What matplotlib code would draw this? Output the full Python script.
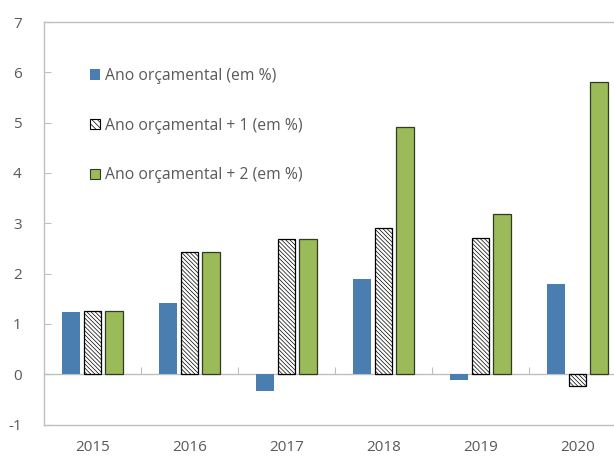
import numpy as np
import matplotlib
matplotlib.use("Agg")
import matplotlib.pyplot as plt
from matplotlib.patches import Patch

# ---- Data ----
years = ["2015", "2016", "2017", "2018", "2019", "2020"]
ano = [1.24, 1.42, -0.33, 1.89, -0.11, 1.79]
ano_1 = [1.26, 2.43, 2.68, 2.90, 2.70, -0.23]
ano_2 = [1.26, 2.43, 2.68, 4.91, 3.19, 5.81]
labels = ["Ano orçamental (em %)", "Ano orçamental + 1 (em %)", "Ano orçamental + 2 (em %)"]

plt.rcParams["font.family"] = ["Open Sans", "DejaVu Sans"]
plt.rcParams["axes.unicode_minus"] = False
plt.rcParams["hatch.linewidth"] = 0.5
plt.rcParams["hatch.color"] = "black"

blue = "#4A7EB0"
green = "#9BBB59"
axis_gray = "#BFBFBF"
text_gray = "#595959"

fig = plt.figure(figsize=(6.14, 4.57), dpi=100)
# right edge of the plot area runs past the picture
ax = fig.add_axes([44 / 614, 32.5 / 457, 582 / 614, 402.5 / 457])

x = np.arange(len(years))
w = 0.18
off = 0.222

ax.bar(x - off, ano, w, color=blue, linewidth=0)
ax.bar(x, ano_1, w, facecolor="white", edgecolor="black", hatch="\\" * 8, linewidth=0.9)
ax.bar(x + off, ano_2, w, color=green, edgecolor="#2f3b22", linewidth=0.9)

ax.set_xlim(-0.5, len(years) - 0.5)
ax.set_ylim(-1, 7)
ax.set_yticks(range(-1, 8))

ax.axhline(0, color=axis_gray, linewidth=1, zorder=0.5)

for side in ["left", "bottom", "top"]:
    ax.spines[side].set_color(axis_gray)
    ax.spines[side].set_linewidth(1)
ax.spines["right"].set_visible(False)

ax.set_xticks(x)
ax.set_xticklabels(years)
ax.tick_params(axis="x", length=0, pad=11, labelsize=11, labelcolor=text_gray)
ax.tick_params(axis="y", direction="in", length=5, color=axis_gray, pad=16,
               labelsize=11, labelcolor=text_gray)

# category separator ticks on the zero line
zero_frac = (0 - (-1)) / (7 - (-1))
sec = ax.secondary_xaxis(zero_frac)
sec.set_xticks(np.arange(len(years) - 1) + 0.5)
sec.set_xticklabels([])
sec.tick_params(direction="in", length=5, color=axis_gray)
sec.spines["bottom"].set_visible(False)
sec.spines["top"].set_visible(False)

handles = [
    Patch(facecolor=blue, linewidth=0),
    Patch(facecolor="white", edgecolor="black", hatch="\\" * 6, linewidth=0.8),
    Patch(facecolor=green, edgecolor="#2f3b22", linewidth=0.8),
]
leg = ax.legend(handles, labels, loc="upper left",
                bbox_to_anchor=(90 / 614, 1 - 68 / 457), bbox_transform=fig.transFigure,
                frameon=False, fontsize=11.3, handlelength=0.65, handleheight=0.65,
                handletextpad=0.3, labelspacing=2.15, borderpad=0, borderaxespad=0)
for t in leg.get_texts():
    t.set_color(text_gray)

fig.savefig("out.png", dpi=100)
